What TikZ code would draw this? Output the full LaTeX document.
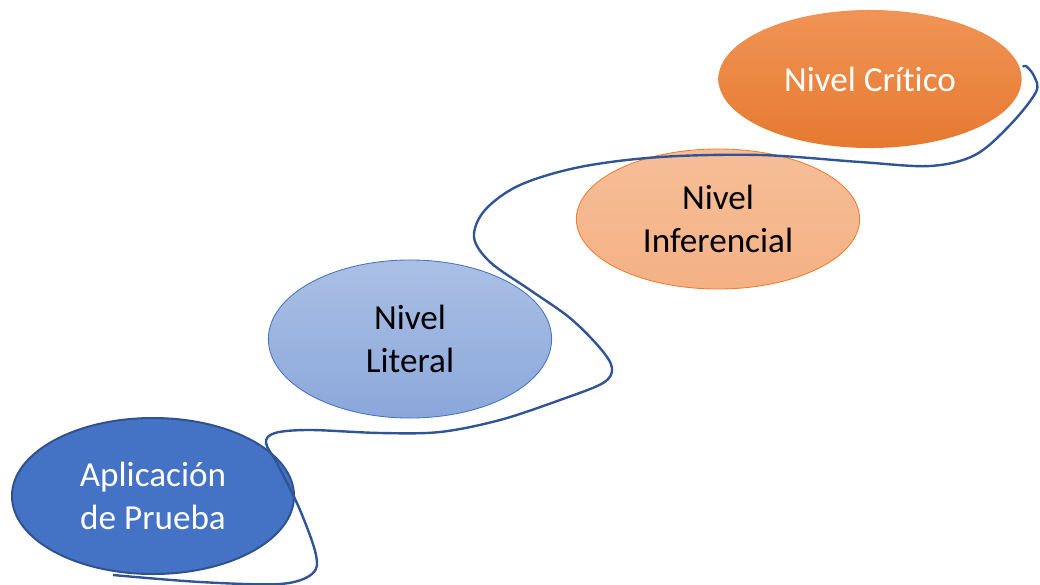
\documentclass[tikz,border=0pt]{standalone}
\usepackage{fontspec}
\setmainfont[Ligatures=NoCommon]{Carlito}
\usetikzlibrary{shapes.geometric}

\definecolor{azul}{HTML}{4472C4}
\definecolor{azulborde}{HTML}{2F528F}
\definecolor{linea}{HTML}{2F5597}
\definecolor{naranja}{HTML}{ED7D31}

\begin{document}
\begin{tikzpicture}[x=0.025cm,y=-0.025cm,
  nivel/.style={ellipse, inner sep=0pt, align=center,
    font=\fontsize{25}{30}\selectfont}]
\useasboundingbox (0,0) rectangle (1040,585);
\node[nivel, draw=azulborde, line width=1.4pt, fill=azul, text=white,
  minimum width=7.05cm, minimum height=3.9cm] (prueba) at (153,496) {Aplicación\\de Prueba};
\node[nivel, draw=azul, line width=0.6pt, top color=azul!45, bottom color=azul!62,
  minimum width=7.08cm, minimum height=3.95cm] (literal) at (410,339) {Nivel\\Literal};
\node[nivel, draw=naranja, line width=0.6pt, top color=naranja!50, bottom color=naranja!60,
  minimum width=7.08cm, minimum height=3.5cm] (inferencial) at (718,219) {Nivel\\Inferencial};
\node[nivel, top color=naranja!82, bottom color=naranja!97!black, text=white,
  minimum width=7.58cm, minimum height=3.45cm] (critico) at (870,79) {Nivel Crítico};
\draw[linea, line width=1.7pt, line join=round] plot[smooth, tension=0.55] coordinates {
  (113,575) (200,582) (280,584) (312,574) (316,555) (300,510) (278,465) (266,443)
  (275,433) (310,430) (380,433) (440,432) (500,420) (560,400) (603,383) (612,368)
  (600,348) (570,318) (530,290) (490,262) (474,237) (485,210) (520,185) (580,167)
  (660,157) (760,155) (860,162) (930,166) (975,155) (1010,125) (1036,92) (1034,76)
  (1026,66) (1023,67)};
\end{tikzpicture}
\end{document}
